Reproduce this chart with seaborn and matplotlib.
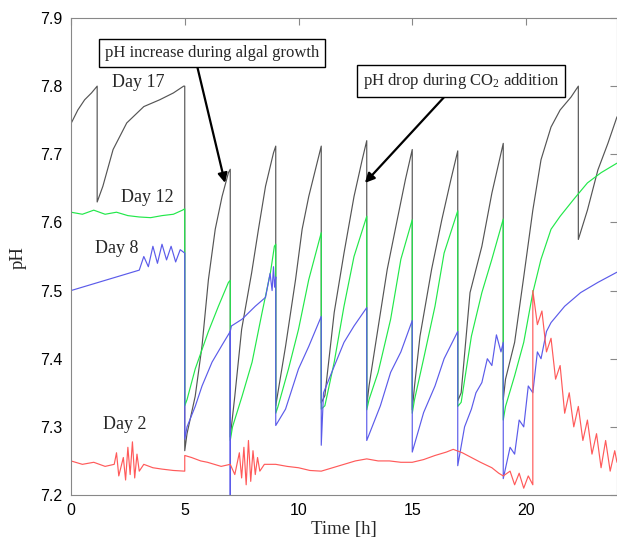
import numpy as np
import pandas as pd
import seaborn as sns
import matplotlib.pyplot as plt

# ---------------- data ----------------
# Day 17 (gray)
t17 = [0, 0.3, 0.6, 0.9, 1.15,
       1.15, 1.4, 1.85, 2.45, 3.2, 3.9, 4.5, 4.95, 5.0,
       5.0, 5.1, 5.46, 5.76, 6.04, 6.34, 6.64, 6.92, 7.0,
       7.0, 7.2, 7.5, 7.94, 8.24, 8.55, 8.9, 9.0,
       9.0, 9.43, 9.87, 10.16, 10.45, 11.0,
       11.0, 11.16, 11.57, 12.0, 12.44, 12.8, 13.0,
       13.0, 13.1, 13.44, 13.9, 14.34, 14.7, 15.0,
       15.0, 15.1, 15.34, 15.85, 16.3, 16.7, 17.0,
       17.0, 17.15, 17.54, 18.06, 18.5, 19.0,
       19.0, 19.1, 19.5, 19.9, 20.3, 20.66, 21.1, 21.5, 21.98, 22.3,
       22.3, 22.7, 23.16, 23.6, 24.0]
p17 = [7.745, 7.765, 7.78, 7.79, 7.80,
       7.63, 7.653, 7.707, 7.746, 7.77, 7.78, 7.79, 7.80, 7.80,
       7.265, 7.29, 7.345, 7.419, 7.516, 7.59, 7.638, 7.673, 7.678,
       7.285, 7.345, 7.443, 7.526, 7.59, 7.653, 7.702, 7.712,
       7.331, 7.418, 7.516, 7.59, 7.638, 7.712,
       7.335, 7.346, 7.468, 7.555, 7.638, 7.692, 7.72,
       7.331, 7.36, 7.433, 7.531, 7.604, 7.663, 7.707,
       7.325, 7.36, 7.433, 7.531, 7.604, 7.663, 7.705,
       7.338, 7.35, 7.497, 7.565, 7.643, 7.716,
       7.34, 7.37, 7.424, 7.52, 7.618, 7.692, 7.74, 7.765, 7.784, 7.80,
       7.575, 7.618, 7.677, 7.716, 7.755]

# Day 12 (green)
t12 = [0, 0.5, 1, 1.5, 2, 2.5, 3, 3.5, 4, 4.5, 4.9, 5.0,
       5.0, 5.1, 5.46, 6.04, 6.48, 6.92, 7.0,
       7.0, 7.1, 7.52, 7.96, 8.4, 8.77, 8.94, 9.0,
       9.0, 9.1, 9.56, 10.0, 10.45, 11.0,
       11.0, 11.16, 11.57, 12.0, 12.44, 13.0,
       13.0, 13.1, 13.5, 14.05, 14.5, 15.0,
       15.0, 15.1, 15.5, 16.0, 16.4, 17.0,
       17.0, 17.15, 17.6, 18.06, 18.5, 19.0,
       19.0, 19.1, 19.5, 19.9, 20.3, 20.66, 21.1, 21.5, 22.1, 22.7, 23.3, 24.0]
p12 = [7.615, 7.612, 7.618, 7.612, 7.615, 7.61, 7.608, 7.607, 7.61, 7.612, 7.618, 7.62,
       7.331, 7.34, 7.385, 7.44, 7.477, 7.512, 7.515,
       7.28, 7.30, 7.345, 7.395, 7.468, 7.527, 7.565, 7.568,
       7.32, 7.33, 7.385, 7.443, 7.516, 7.585,
       7.326, 7.331, 7.395, 7.477, 7.55, 7.609,
       7.325, 7.34, 7.38, 7.458, 7.546, 7.604,
       7.32, 7.34, 7.40, 7.477, 7.555, 7.617,
       7.33, 7.336, 7.433, 7.497, 7.546, 7.605,
       7.31, 7.33, 7.375, 7.424, 7.497, 7.546, 7.59, 7.609, 7.634, 7.658, 7.673, 7.687]

# Day 8 (blue)
t8 = [0, 0.5, 1, 1.5, 2, 2.5, 3.0, 3.2, 3.4, 3.6, 3.8, 4.0, 4.2, 4.4, 4.6, 4.8, 5.0,
      5.0, 5.1, 5.46, 5.76, 6.2, 6.64, 7.0,
      7.0, 7.0, 7.05, 7.52, 8.1, 8.55, 8.75, 8.84, 8.9, 8.95, 9.0,
      9.0, 9.43, 10.0, 10.45, 11.0,
      11.0, 11.1, 11.4, 12.0, 12.44, 13.0,
      13.0, 13.6, 14.05, 14.5, 15.0,
      15.0, 15.5, 16.0, 16.4, 17.0,
      17.0, 17.3, 17.6, 17.8, 18.06, 18.3, 18.5, 18.7, 18.9, 19.0,
      19.0, 19.3, 19.5, 19.7, 19.9, 20.1, 20.3, 20.5, 20.66, 20.9, 21.1, 21.7, 22.4, 23.16, 24.0]
p8 = [7.50, 7.505, 7.51, 7.515, 7.52, 7.525, 7.53, 7.55, 7.535, 7.565, 7.54, 7.568, 7.545, 7.565, 7.542, 7.56, 7.555,
      7.282, 7.30, 7.33, 7.36, 7.395, 7.42, 7.44,
      7.20, 7.44, 7.448, 7.458, 7.477, 7.49, 7.525, 7.50, 7.535, 7.505, 7.52,
      7.302, 7.326, 7.385, 7.418, 7.462,
      7.273, 7.35, 7.375, 7.424, 7.448, 7.475,
      7.28, 7.331, 7.38, 7.41, 7.456,
      7.263, 7.321, 7.36, 7.40, 7.44,
      7.243, 7.30, 7.326, 7.35, 7.365, 7.40, 7.39, 7.435, 7.41, 7.424,
      7.224, 7.27, 7.26, 7.31, 7.30, 7.36, 7.35, 7.41, 7.40, 7.44, 7.453, 7.477, 7.497, 7.512, 7.527]

# Day 2 (red)
t2 = [0, 0.5, 1.0, 1.5, 1.9, 2.0, 2.1, 2.3, 2.4, 2.5, 2.6, 2.7, 2.8, 2.9, 3.0, 3.2, 3.6, 4.0, 4.5, 5.0,
      5.0, 5.3, 5.7, 6.0, 6.3, 6.6, 7.0, 7.2, 7.4, 7.5, 7.6, 7.7, 7.8, 7.9, 8.0, 8.1, 8.2, 8.3, 8.5,
      9.0, 9.5, 10.0, 10.5, 11.0, 11.5, 12.0, 12.5, 13.0, 13.5, 14.0, 14.5, 15.0, 15.5, 16.0, 16.5,
      16.8, 17.2, 17.6, 18.0, 18.5, 18.8, 19.0, 19.3, 19.5, 19.7, 19.9, 20.1, 20.3,
      20.3, 20.5, 20.7, 20.9, 21.1, 21.3, 21.5, 21.7, 21.9, 22.1, 22.3, 22.5, 22.7, 22.9, 23.1,
      23.3, 23.5, 23.7, 23.9, 24.0]
p2 = [7.25, 7.245, 7.248, 7.242, 7.245, 7.262, 7.228, 7.255, 7.222, 7.27, 7.23, 7.278, 7.225, 7.26, 7.235, 7.245, 7.24, 7.238, 7.236, 7.235,
      7.258, 7.255, 7.25, 7.248, 7.245, 7.242, 7.245, 7.23, 7.262, 7.225, 7.27, 7.215, 7.28, 7.22, 7.265, 7.23, 7.255, 7.235, 7.245,
      7.245, 7.242, 7.24, 7.236, 7.235, 7.24, 7.245, 7.25, 7.253, 7.25, 7.25, 7.248, 7.248, 7.252, 7.258, 7.263,
      7.267, 7.262, 7.255, 7.248, 7.24, 7.232, 7.228, 7.235, 7.215, 7.232, 7.21, 7.228, 7.215,
      7.50, 7.45, 7.47, 7.41, 7.43, 7.37, 7.39, 7.32, 7.35, 7.30, 7.33, 7.28, 7.31, 7.26, 7.29,
      7.24, 7.28, 7.235, 7.265, 7.248]

days = ["Day 17", "Day 12", "Day 8", "Day 2"]
colors = ["#555555", "#22e84a", "#5b5bea", "#ff5a5a"]

frames = []
for d, t, p in zip(days, [t17, t12, t8, t2], [p17, p12, p8, p2]):
    assert len(t) == len(p), (d, len(t), len(p))
    frames.append(pd.DataFrame({"t": t, "pH": p, "day": d}))
df = pd.concat(frames, ignore_index=True)

# ---------------- figure ----------------
sns.set_theme(style="white")
plt.rcParams["font.family"] = ["Liberation Sans", "DejaVu Sans"]
plt.rcParams["mathtext.fontset"] = "custom"
plt.rcParams["mathtext.rm"] = "Liberation Serif"
plt.rcParams["mathtext.it"] = "Liberation Serif:italic"

fig = plt.figure(figsize=(6.17, 5.48), dpi=100)
ax = fig.add_axes([71 / 617, 1 - 495 / 548, 1 - 71 / 617, (495 - 18) / 548])

sns.lineplot(data=df, x="t", y="pH", hue="day", hue_order=days,
             palette=dict(zip(days, colors)), estimator=None, sort=False,
             legend=False, linewidth=0.85, ax=ax)

ax.set_xlim(0, 24)
ax.set_ylim(7.2, 7.9)
ax.set_xticks([0, 5, 10, 15, 20])
ax.set_yticks([7.2, 7.3, 7.4, 7.5, 7.6, 7.7, 7.8, 7.9])
ax.set_yticklabels([f"{v:.1f}" for v in [7.2, 7.3, 7.4, 7.5, 7.6, 7.7, 7.8, 7.9]])
ax.tick_params(direction="in", top=True, right=True, length=5, width=0.8,
               color="#888888", labelsize=11.5, labelcolor="black")
ax.tick_params(axis="y", pad=6)
ax.tick_params(axis="x", pad=6)
for s in ax.spines.values():
    s.set_color("#888888")
    s.set_linewidth(0.8)

serif = ["Liberation Serif", "DejaVu Serif"]
ax.set_xlabel("Time [h]", family=serif, fontsize=13.5)
ax.set_ylabel("pH", family=serif, fontsize=13.5)
ax.xaxis.set_label_coords(0.5, -0.073)
ax.xaxis.label.set_va("center")
ax.yaxis.set_label_coords(-0.097, 0.497)
ax.yaxis.label.set_va("center")

ax.text(2.95, 7.806, "Day 17", family=serif, fontsize=13, ha="center", va="center")
ax.text(3.34, 7.636, "Day 12", family=serif, fontsize=13, ha="center", va="center")
ax.text(2.02, 7.562, "Day 8", family=serif, fontsize=13, ha="center", va="center")
ax.text(2.37, 7.303, "Day 2", family=serif, fontsize=13, ha="center", va="center")

box = dict(boxstyle="square,pad=0.35", facecolor="white", edgecolor="black", linewidth=1.0)
arrow = dict(arrowstyle="-|>", color="black", lw=1.6, mutation_scale=14, shrinkA=0, shrinkB=0)

ax.annotate("", xy=(6.77, 7.658), xytext=(5.54, 7.83), arrowprops=arrow)
ax.text(6.2, 7.849, "pH increase during algal growth", family=serif, fontsize=12,
        ha="center", va="center", bbox=box)

ax.annotate("", xy=(12.92, 7.658), xytext=(16.57, 7.79), arrowprops=arrow)
ax.text(17.14, 7.808, "pH drop during CO$_2$ addition", family=serif, fontsize=12,
        ha="center", va="center", bbox=box)

fig.savefig("out.png", dpi=100)
